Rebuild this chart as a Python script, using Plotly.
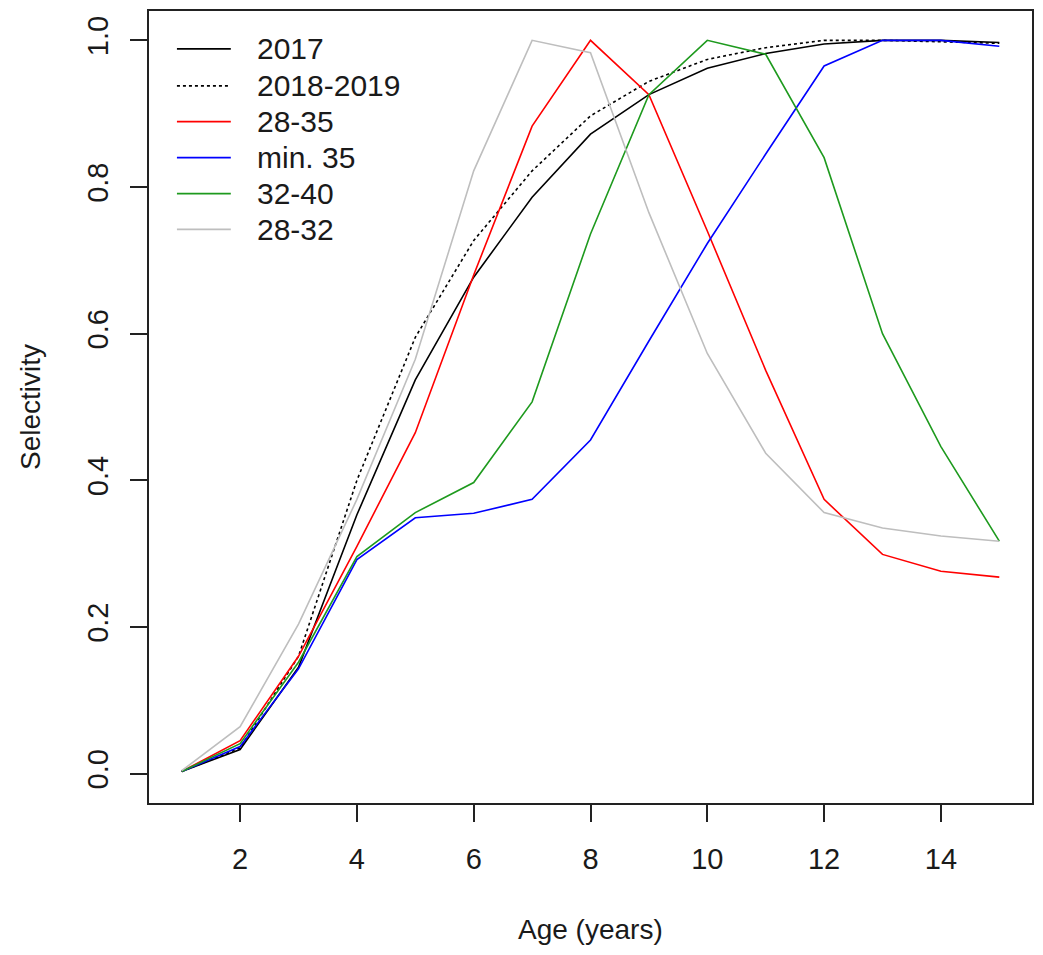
import plotly.graph_objects as go

ages = list(range(1, 16))

sel_2017 = [0.003, 0.033, 0.145, 0.353, 0.537, 0.677, 0.786, 0.872, 0.926, 0.962, 0.982, 0.995, 1.0, 1.0, 0.997]
sel_2018_2019 = [0.003, 0.035, 0.160, 0.400, 0.595, 0.727, 0.822, 0.897, 0.944, 0.974, 0.990, 1.0, 1.0, 0.998, 0.996]
sel_28_35 = [0.003, 0.045, 0.160, 0.310, 0.465, 0.680, 0.883, 1.0, 0.926, 0.740, 0.550, 0.374, 0.299, 0.276, 0.268]
sel_min35 = [0.003, 0.037, 0.143, 0.292, 0.349, 0.355, 0.374, 0.455, 0.590, 0.723, 0.845, 0.965, 1.0, 1.0, 0.992]
sel_32_40 = [0.003, 0.041, 0.152, 0.296, 0.356, 0.397, 0.507, 0.736, 0.926, 1.0, 0.981, 0.840, 0.600, 0.446, 0.317]
sel_28_32 = [0.004, 0.064, 0.204, 0.374, 0.565, 0.822, 1.0, 0.983, 0.765, 0.573, 0.437, 0.356, 0.335, 0.324, 0.317]

series_names = ["2017", "2018-2019", "28-35", "min. 35", "32-40", "28-32"]
series_values = [sel_2017, sel_2018_2019, sel_28_35, sel_min35, sel_32_40, sel_28_32]
series_colors = ["#000000", "#000000", "#FF0000", "#0000FF", "#1E9A1E", "#BEBEBE"]
series_dash = ["solid", "dot", "solid", "solid", "solid", "solid"]

x_ticks = [2, 4, 6, 8, 10, 12, 14]
y_ticks = [0.0, 0.2, 0.4, 0.6, 0.8, 1.0]

FONT = "Liberation Sans, Arial, sans-serif"
TXT = "#1a1a1a"

# figure sits inside the page body (8px default margin)
W, H = 1027, 939
ML, MR, MT, MB = 141, 1, 1, 144
PW, PH = W - ML - MR, H - MT - MB

def px2paper_x(xp):
    return (xp - 8 - ML) / PW

def px2paper_y(yp):
    return (H - MB - (yp - 8)) / PH

fig = go.Figure()
for name, vals, col, dash in zip(series_names, series_values, series_colors, series_dash):
    fig.add_trace(go.Scatter(
        x=ages, y=vals, mode="lines", name=name,
        line=dict(color=col, width=1.6, dash=dash),
        showlegend=False,
    ))

# legend drawn in the top-left corner of the plotting box (like R's legend("topleft"))
shapes = []
annotations = []
row_y = [47, 84, 120, 156, 192, 228]
for name, col, dash, yp in zip(series_names, series_colors, series_dash, row_y):
    yy = px2paper_y(yp)
    shapes.append(dict(type="line", xref="paper", yref="paper",
                       x0=px2paper_x(177), x1=px2paper_x(231), y0=yy, y1=yy,
                       line=dict(color=col, width=1.8, dash=dash)))
    annotations.append(dict(text=name, xref="paper", yref="paper",
                            x=px2paper_x(255), y=yy, xanchor="left", yanchor="middle",
                            showarrow=False, font=dict(family=FONT, size=30, color=TXT)))

annotations += [
    dict(text="Age (years)", xref="paper", yref="paper", x=0.5, y=0,
         yshift=-126, showarrow=False, xanchor="center", yanchor="middle",
         font=dict(family=FONT, size=28, color=TXT)),
    dict(text="Selectivity", xref="paper", yref="paper", x=0, y=0.5,
         xshift=-119, showarrow=False, xanchor="center", yanchor="middle",
         textangle=-90, font=dict(family=FONT, size=28, color=TXT)),
]

fig.update_layout(
    width=W, height=H,
    margin=dict(l=ML, r=MR, t=MT, b=MB),
    paper_bgcolor="white", plot_bgcolor="white",
    font=dict(family=FONT, size=29, color=TXT),
    showlegend=False,
    shapes=shapes,
    annotations=annotations,
    xaxis=dict(
        range=[0.44, 15.56], tickvals=x_ticks, ticktext=[str(v) for v in x_ticks],
        showgrid=False, zeroline=False,
        showline=True, mirror=True, linecolor="#222222", linewidth=2,
        ticks="outside", ticklen=17, tickwidth=1.5, tickcolor="#222222",
        ticklabelstandoff=12,
        tickfont=dict(family=FONT, size=29, color=TXT),
    ),
    yaxis=dict(
        range=[-0.04, 1.04], tickvals=y_ticks, ticktext=[f"{v:.1f}" for v in y_ticks],
        tickangle=-90,
        showgrid=False, zeroline=False,
        showline=True, mirror=True, linecolor="#222222", linewidth=2,
        ticks="outside", ticklen=17, tickwidth=1.5, tickcolor="#222222",
        ticklabelstandoff=10,
        tickfont=dict(family=FONT, size=29, color=TXT),
    ),
)

fig.write_html("out.html")
